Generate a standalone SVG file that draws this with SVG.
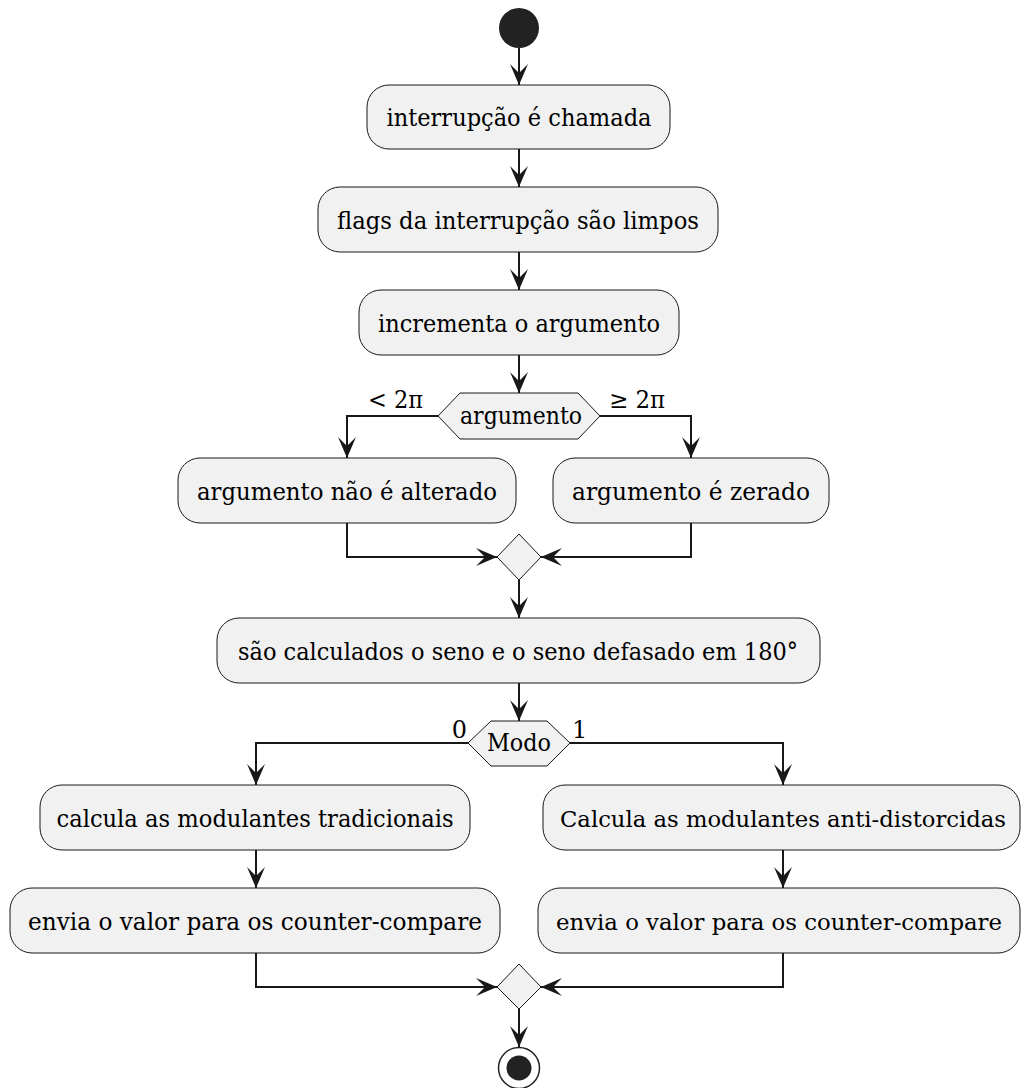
<svg xmlns="http://www.w3.org/2000/svg" width="1021" height="1088" viewBox="0 0 1021 1088">
<style>
.box{fill:#F1F1F1;stroke:#181818;stroke-width:1}
.t{font-family:"DejaVu Serif","Liberation Serif",serif;font-size:24px;fill:#000}
.s{font-size:22px}
.c{stroke:#181818;stroke-width:2;fill:none}
.lbl{font-family:"DejaVu Serif","Liberation Serif",serif;font-size:24px;fill:#000}
</style>
<defs>
<marker id="arr" viewBox="-22 -10 23 20" refX="0" refY="0" markerWidth="23" markerHeight="20" orient="auto" markerUnits="userSpaceOnUse">
<path d="M0,0 L-21,-9 L-12,0 L-21,9 Z" fill="#181818"/>
</marker>
</defs>
<rect width="1021" height="1088" fill="#FFFFFF"/>
<g id="connectors">
<path class="c" d="M519,48 L519,85" marker-end="url(#arr)"/>
<path class="c" d="M519,149 L519,187" marker-end="url(#arr)"/>
<path class="c" d="M519,252 L519,290" marker-end="url(#arr)"/>
<path class="c" d="M519,355 L519,393" marker-end="url(#arr)"/>
<path class="c" d="M438,416 L347,416 L347,458" marker-end="url(#arr)"/>
<path class="c" d="M600,416 L691,416 L691,458" marker-end="url(#arr)"/>
<path class="c" d="M347,523 L347,557 L497,557" marker-end="url(#arr)"/>
<path class="c" d="M691,523 L691,557 L541,557" marker-end="url(#arr)"/>
<path class="c" d="M519,580 L519,618" marker-end="url(#arr)"/>
<path class="c" d="M519,683 L519,721" marker-end="url(#arr)"/>
<path class="c" d="M468,743 L256,743 L256,785" marker-end="url(#arr)"/>
<path class="c" d="M570,743 L783,743 L783,785" marker-end="url(#arr)"/>
<path class="c" d="M256,850 L256,888" marker-end="url(#arr)"/>
<path class="c" d="M783,850 L783,888" marker-end="url(#arr)"/>
<path class="c" d="M256,953 L256,987 L497,987" marker-end="url(#arr)"/>
<path class="c" d="M783,953 L783,987 L541,987" marker-end="url(#arr)"/>
<path class="c" d="M519,1009 L519,1047" marker-end="url(#arr)"/>
<text class="lbl" x="423" y="408" text-anchor="end" textLength="55" lengthAdjust="spacingAndGlyphs">&lt; 2π</text>
<text class="lbl" x="609" y="408" textLength="56" lengthAdjust="spacingAndGlyphs">≥ 2π</text>
<text class="lbl" x="467" y="738" text-anchor="end">0</text>
<text class="lbl" x="572" y="738">1</text>
</g>
<g id="start"><circle cx="519" cy="28" r="20" fill="#222222"/></g>
<g id="n1"><rect class="box" x="367" y="85" width="303" height="64" rx="22"/><text class="t" x="519" y="126" text-anchor="middle" textLength="265" lengthAdjust="spacingAndGlyphs">interrupção é chamada</text></g>
<g id="n2"><rect class="box" x="318" y="187" width="400" height="65" rx="22"/><text class="t" x="518" y="229" text-anchor="middle" textLength="362" lengthAdjust="spacingAndGlyphs">flags da interrupção são limpos</text></g>
<g id="n3"><rect class="box" x="359" y="290" width="320" height="65" rx="22"/><text class="t" x="519" y="332" text-anchor="middle" textLength="282" lengthAdjust="spacingAndGlyphs">incrementa o argumento</text></g>
<g id="d1"><polygon class="box" points="438,416 460,393 578,393 600,416 578,439 460,439"/><text class="t" x="521" y="424" text-anchor="middle" textLength="122" lengthAdjust="spacingAndGlyphs">argumento</text></g>
<g id="n4"><rect class="box" x="178" y="458" width="338" height="65" rx="22"/><text class="t" x="347" y="500" text-anchor="middle" textLength="300" lengthAdjust="spacingAndGlyphs">argumento não é alterado</text></g>
<g id="n5"><rect class="box" x="553" y="458" width="276" height="65" rx="22"/><text class="t" x="691" y="500" text-anchor="middle" textLength="238" lengthAdjust="spacingAndGlyphs">argumento é zerado</text></g>
<g id="m1"><polygon class="box" points="519,534 541,557 519,580 497,557"/></g>
<g id="n6"><rect class="box" x="217" y="618" width="603" height="65" rx="22"/><text class="t" x="518" y="660" text-anchor="middle" textLength="560" lengthAdjust="spacingAndGlyphs">são calculados o seno e o seno defasado em 180°</text></g>
<g id="d2"><polygon class="box" points="468,743 491,721 547,721 570,743 547,766 491,766"/><text class="t" x="519" y="751" text-anchor="middle" textLength="64" lengthAdjust="spacingAndGlyphs">Modo</text></g>
<g id="n7"><rect class="box" x="40" y="785" width="430" height="65" rx="22"/><text class="t" x="255" y="827" text-anchor="middle" textLength="397" lengthAdjust="spacingAndGlyphs">calcula as modulantes tradicionais</text></g>
<g id="n8"><rect class="box" x="543" y="785" width="477" height="65" rx="22"/><text class="t s" x="783" y="827" text-anchor="middle" textLength="446" lengthAdjust="spacingAndGlyphs">Calcula as modulantes anti-distorcidas</text></g>
<g id="n9"><rect class="box" x="10" y="888" width="490" height="65" rx="22"/><text class="t" x="255" y="930" text-anchor="middle" textLength="454" lengthAdjust="spacingAndGlyphs">envia o valor para os counter-compare</text></g>
<g id="n10"><rect class="box" x="538" y="888" width="482" height="65" rx="22"/><text class="t s" x="779" y="930" text-anchor="middle" textLength="446" lengthAdjust="spacingAndGlyphs">envia o valor para os counter-compare</text></g>
<g id="m2"><polygon class="box" points="519,964 541,987 519,1009 497,987"/></g>
<g id="end"><circle cx="519" cy="1068" r="20.5" fill="none" stroke="#222222" stroke-width="1.5"/><circle cx="519" cy="1068" r="12.5" fill="#222222"/></g>
</svg>
